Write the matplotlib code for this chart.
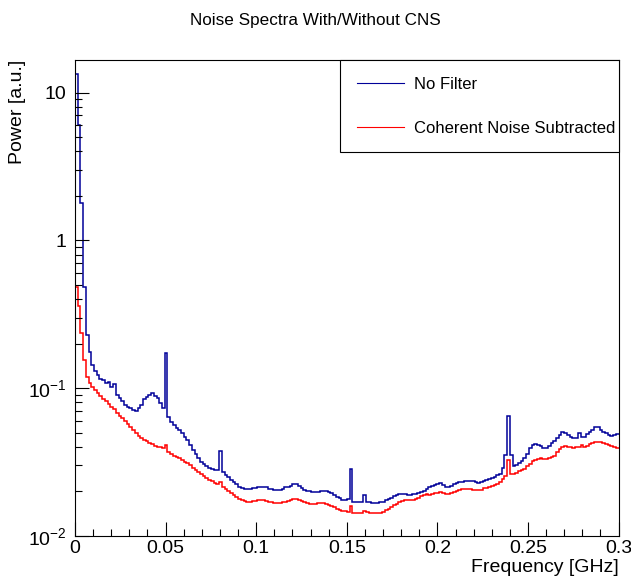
import numpy as np
import matplotlib
matplotlib.use("Agg")
import matplotlib.pyplot as plt
from matplotlib.ticker import MultipleLocator, LogLocator, FixedLocator, FixedFormatter, NullFormatter

plt.rcParams['font.family'] = ['Liberation Sans', 'DejaVu Sans']
plt.rcParams['mathtext.fontset'] = 'custom'
plt.rcParams['mathtext.rm'] = 'Liberation Sans'
plt.rcParams['mathtext.it'] = 'Liberation Sans:italic'

# frequency bins [GHz]
bin_width = 0.0015
n_bins = 200

# power per bin [a.u.]
no_filter = [13.4, 6.0, 1.8, 0.48, 0.23, 0.175, 0.143, 0.130, 0.122, 0.116,
             0.113, 0.108, 0.110, 0.102, 0.106, 0.0897, 0.0856, 0.0817, 0.0768, 0.0750,
             0.0738, 0.0716, 0.0705, 0.0733, 0.0768, 0.0843, 0.0876, 0.0897, 0.0933, 0.0890,
             0.0862, 0.0792, 0.0733, 0.173, 0.0634, 0.0594, 0.0562, 0.0541, 0.0524, 0.0494,
             0.0464, 0.0445, 0.0412, 0.0384, 0.0361, 0.0338, 0.0318, 0.0307, 0.0297, 0.0290,
             0.0286, 0.0281, 0.0279, 0.0375, 0.0269, 0.0260, 0.0250, 0.0239, 0.0233, 0.0223,
             0.0214, 0.0211, 0.0209, 0.0207, 0.0209, 0.0211, 0.0212, 0.0214, 0.0215, 0.0214,
             0.0213, 0.0209, 0.0207, 0.0205, 0.0205, 0.0206, 0.0209, 0.0213, 0.0215, 0.0219,
             0.0224, 0.0225, 0.0219, 0.0211, 0.0206, 0.0202, 0.0200, 0.0198, 0.0198, 0.0199,
             0.0201, 0.0201, 0.0200, 0.0198, 0.0194, 0.0189, 0.0183, 0.0180, 0.0176, 0.0175,
             0.0178, 0.0282, 0.0170, 0.0169, 0.0169, 0.0170, 0.0189, 0.0171, 0.0169, 0.0168,
             0.0168, 0.0168, 0.0169, 0.0171, 0.0174, 0.0178, 0.0181, 0.0185, 0.0188, 0.0191,
             0.0191, 0.0191, 0.0190, 0.0189, 0.0191, 0.0192, 0.0195, 0.0198, 0.0203, 0.0208,
             0.0213, 0.0218, 0.0222, 0.0225, 0.0227, 0.0221, 0.0215, 0.0216, 0.0218, 0.0223,
             0.0227, 0.0231, 0.0233, 0.0236, 0.0236, 0.0236, 0.0234, 0.0232, 0.0230, 0.0232,
             0.0236, 0.0239, 0.0243, 0.0246, 0.0252, 0.0258, 0.0264, 0.0288, 0.0353, 0.0647,
             0.0353, 0.0297, 0.0302, 0.0313, 0.0324, 0.0339, 0.0358, 0.0393, 0.0412, 0.0417,
             0.0415, 0.0405, 0.0395, 0.0395, 0.0405, 0.0428, 0.0442, 0.0459, 0.0485, 0.0508,
             0.0500, 0.0483, 0.0466, 0.0462, 0.0463, 0.0494, 0.0466, 0.0466, 0.0489, 0.0508,
             0.0520, 0.0545, 0.0545, 0.0524, 0.0508, 0.0497, 0.0483, 0.0474, 0.0483, 0.0489]

cns = [0.48, 0.36, 0.235, 0.155, 0.119, 0.108, 0.1024, 0.0977, 0.0933, 0.0890,
       0.0849, 0.0817, 0.0786, 0.0750, 0.0721, 0.0683, 0.0652, 0.0627, 0.0598, 0.0575,
       0.0545, 0.0520, 0.0497, 0.0478, 0.0463, 0.0449, 0.0438, 0.0428, 0.0419, 0.0409,
       0.0403, 0.0398, 0.0391, 0.0412, 0.0371, 0.0361, 0.0350, 0.0342, 0.0335, 0.0326,
       0.0319, 0.0311, 0.0302, 0.0290, 0.0281, 0.0272, 0.0264, 0.0256, 0.0248, 0.0241,
       0.0235, 0.0230, 0.0225, 0.0232, 0.0213, 0.0208, 0.0201, 0.0195, 0.0189, 0.0183,
       0.0178, 0.0174, 0.0172, 0.0171, 0.0171, 0.0172, 0.0173, 0.0175, 0.0175, 0.0174,
       0.0172, 0.0171, 0.0169, 0.0168, 0.0168, 0.0168, 0.0169, 0.0171, 0.0173, 0.0175,
       0.0177, 0.0178, 0.0176, 0.0172, 0.0170, 0.0167, 0.0165, 0.0164, 0.0165, 0.0166,
       0.0166, 0.0166, 0.0164, 0.0162, 0.0160, 0.0157, 0.0153, 0.0151, 0.0148, 0.0147,
       0.0146, 0.0160, 0.0144, 0.0144, 0.0144, 0.0144, 0.0148, 0.0145, 0.0144, 0.0144,
       0.0144, 0.0144, 0.0144, 0.0146, 0.0149, 0.0152, 0.0157, 0.0161, 0.0164, 0.0170,
       0.0172, 0.0174, 0.0175, 0.0175, 0.0176, 0.0177, 0.0182, 0.0186, 0.0189, 0.0191,
       0.0190, 0.0192, 0.0194, 0.0196, 0.0197, 0.0195, 0.0192, 0.0193, 0.0195, 0.0199,
       0.0203, 0.0206, 0.0208, 0.0209, 0.0209, 0.0208, 0.0206, 0.0205, 0.0206, 0.0206,
       0.0210, 0.0211, 0.0214, 0.0218, 0.0220, 0.0226, 0.0233, 0.0243, 0.0254, 0.0326,
       0.0262, 0.0262, 0.0267, 0.0274, 0.0279, 0.0286, 0.0297, 0.0309, 0.0321, 0.0329,
       0.0334, 0.0335, 0.0331, 0.0330, 0.0337, 0.0342, 0.0350, 0.0370, 0.0387, 0.0403,
       0.0405, 0.0403, 0.0399, 0.0395, 0.0399, 0.0401, 0.0412, 0.0403, 0.0409, 0.0419,
       0.0427, 0.0434, 0.0435, 0.0434, 0.0428, 0.0422, 0.0412, 0.0405, 0.0399, 0.0396]

x_ticks = [0, 0.05, 0.1, 0.15, 0.2, 0.25, 0.3]
x_labels = ["0", "0.05", "0.1", "0.15", "0.2", "0.25", "0.3"]
y_ticks = [0.01, 0.1, 1, 10]
y_labels = [r"$10^{-2}$", r"$10^{-1}$", "1", "10"]

edges = np.arange(n_bins + 1) * bin_width

fig = plt.figure(figsize=(6.31, 5.79), dpi=100)
ax = fig.add_axes([0.1189, 0.0743, 0.8614, 0.8221])

ax.stairs(no_filter, edges, baseline=None, color="#000099", lw=1.1, label="No Filter")
ax.stairs(cns, edges, baseline=None, color="#ff0000", lw=1.1, label="Coherent Noise Subtracted")

ax.set_yscale("log")
ax.set_xlim(0, 0.3)
ax.set_ylim(0.01, 16.6)

ax.xaxis.set_major_locator(FixedLocator(x_ticks))
ax.xaxis.set_major_formatter(FixedFormatter(x_labels))
ax.xaxis.set_minor_locator(MultipleLocator(0.01))
ax.yaxis.set_major_locator(FixedLocator(y_ticks))
ax.yaxis.set_major_formatter(FixedFormatter(y_labels))
ax.yaxis.set_minor_locator(LogLocator(base=10, subs=np.arange(2, 10)))
ax.yaxis.set_minor_formatter(NullFormatter())

ax.tick_params(which="both", direction="in", top=False, right=False, labelsize=14)
ax.tick_params(which="major", length=10, width=0.8)
ax.tick_params(which="minor", length=5, width=0.8)
ax.tick_params(axis="y", pad=6)
ax.tick_params(axis="x", pad=3)
for s in ax.spines.values():
    s.set_linewidth(0.8)

leg = ax.legend(loc="upper left", bbox_to_anchor=(0.488, 0.807, 0.512, 0.193), mode="expand",
                borderaxespad=0, fancybox=False, framealpha=1, edgecolor="black",
                fontsize=12, handlelength=2.8, handletextpad=0.6, labelspacing=1.75,
                borderpad=1.0)
leg.get_frame().set_linewidth(0.8)
for h in leg.legend_handles:
    h.set_linewidth(0.8)

fig.text(0.5, 1 - 20 / 579, "Noise Spectra With/Without CNS", ha="center", va="center", fontsize=12.3)
fig.text(619 / 631, 1 - 567 / 579, "Frequency [GHz]", ha="right", va="center", fontsize=14)
fig.text(18 / 631, 1 - 60 / 579, "Power [a.u.]", ha="center", va="top", rotation=90, fontsize=14)

plt.savefig("out.png", dpi=100)
